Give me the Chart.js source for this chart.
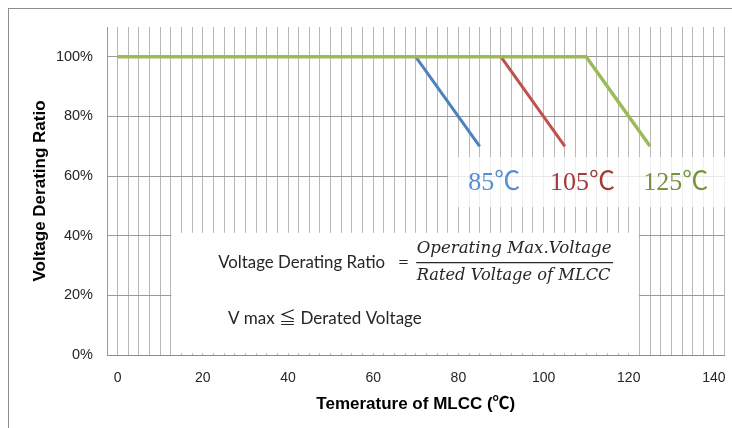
<!DOCTYPE html>
<html><head><meta charset="utf-8">
<script src="https://cdn.jsdelivr.net/npm/chart.js@4.4.1/dist/chart.umd.min.js"></script>
<style>html,body{margin:0;padding:0;background:#fff}#wrap{position:relative;width:732px;height:428px}</style>
</head><body><div id="wrap"><canvas id="c" width="732" height="428"></canvas></div>
<script>
// ---- data ----
const seriesLabels = ['125℃', '85℃', '105℃'];
const temp125 = [0, 110, 125];
const ratio125 = [100, 100, 70];
const temp85 = [70, 85];
const ratio85 = [100, 70];
const temp105 = [90, 105];
const ratio105 = [100, 70];
const xTickValues = [0, 20, 40, 60, 80, 100, 120, 140];
const yTickValues = [0, 20, 40, 60, 80, 100];
const xTitle = 'Temerature of MLCC (℃)';
const yTitle = 'Voltage Derating Ratio';
const formulaLeft = 'Voltage Derating Ratio';
const formulaNum = 'Operating Max.Voltage';
const formulaDen = 'Rated Voltage of MLCC';
const formulaNote = 'V max ≦ Derated Voltage';

const colors = { g: '#9BBB59', b: '#4F81BD', r: '#C0504D' };
const textColors = { g: '#77933C', b: '#558ED5', r: '#A33B3B' };

function pts(xs, ys) { return xs.map((x, i) => ({ x: x, y: ys[i] })); }

const overlay = {
  id: 'overlay',
  beforeDraw(chart) {
    const ctx = chart.ctx;
    ctx.save();
    ctx.strokeStyle = '#8e8e8e';
    ctx.lineWidth = 1;
    ctx.strokeRect(8.5, 8.5, 760, 460);
    ctx.restore();
  },
  beforeDatasetsDraw(chart) {
    const ctx = chart.ctx, xs = chart.scales.x, ys = chart.scales.y;
    const X = v => xs.getPixelForValue(v), Y = v => ys.getPixelForValue(v);
    ctx.save();
    // formula box (opaque)
    ctx.fillStyle = '#ffffff';
    ctx.fillRect(X(12.6), Y(41), X(122.4) - X(12.6), Y(0.6) - Y(41));
    // label box (semi-transparent)
    ctx.fillStyle = 'rgba(255,255,255,0.78)';
    ctx.fillRect(X(77.6), Y(66.4), chart.width - X(77.6), Y(49.6) - Y(66.4));

    function fitText(text, style, family, x, y, w, color, baseline) {
      ctx.font = style + ' 100px ' + family;
      const m = ctx.measureText(text).width;
      const s = 100 * w / m;
      ctx.font = style + ' ' + s.toFixed(2) + 'px ' + family;
      ctx.fillStyle = color;
      ctx.textAlign = 'left';
      ctx.textBaseline = baseline || 'alphabetic';
      ctx.fillText(text, x, y);
    }
    // series labels
    ctx.textAlign = 'left'; ctx.textBaseline = 'alphabetic';
    ctx.font = '26px "Liberation Serif", "Noto Sans CJK JP", serif';
    const lab = [[seriesLabels[1], 82.3, textColors.b], [seriesLabels[2], 101.5, textColors.r], [seriesLabels[0], 123.4, textColors.g]];
    lab.forEach(l => { ctx.fillStyle = l[2]; ctx.fillText(l[0], X(l[1]), Y(55.3)); });

    const dark = '#262626';
    fitText(formulaLeft, '', 'Lato', X(23.6), Y(29.2), 167, dark);
    fitText('=', '', '"DejaVu Serif"', X(65.8), Y(31.0), 11, dark, 'middle');
    fitText(formulaNum, 'italic', '"DejaVu Serif"', X(70.2), Y(34.2), 195, dark);
    fitText(formulaDen, 'italic', '"DejaVu Serif"', X(70.2), Y(25.15), 194, dark);
    ctx.strokeStyle = dark; ctx.lineWidth = 1.2;
    ctx.beginPath(); ctx.moveTo(X(70.1), Y(31.0)); ctx.lineTo(X(116.3), Y(31.0)); ctx.stroke();
    fitText(formulaNote, '', 'Lato, "Noto Sans CJK JP"', X(25.9), Y(10.4), 194, dark);
    ctx.restore();
  }
};

new Chart(document.getElementById('c'), {
  type: 'scatter',
  data: {
    datasets: [
      { label: seriesLabels[0], data: pts(temp125, ratio125), borderColor: colors.g, borderWidth: 3.5 },
      { label: seriesLabels[1], data: pts(temp85, ratio85), borderColor: colors.b, borderWidth: 3 },
      { label: seriesLabels[2], data: pts(temp105, ratio105), borderColor: colors.r, borderWidth: 3 }
    ].map(d => Object.assign(d, { showLine: true, pointRadius: 0, pointHoverRadius: 0, fill: false, tension: 0, borderCapStyle: 'butt' }))
  },
  options: {
    responsive: false,
    animation: false,
    events: [],
    layout: { padding: { top: 27, right: 7.4, left: 0, bottom: 0 } },
    plugins: { legend: { display: false }, tooltip: { enabled: false } },
    scales: {
      x: {
        type: 'linear', min: -2.5, max: 142.5,
        afterFit: s => { s.height = 73; s.paddingLeft = 0; s.paddingRight = 0; },
        ticks: {
          stepSize: 2.5, autoSkip: false, maxRotation: 0, padding: 15,
          maxTicksLimit: 1000, color: '#262626', font: { family: '"Liberation Sans", Arial', size: 14 },
          callback: v => (xTickValues.includes(v) ? String(v) : '')
        },
        grid: { color: '#b8b8b8', lineWidth: 1, drawTicks: false },
        border: { color: '#8c8c8c', width: 1 },
        title: { display: true, text: xTitle, color: '#000', font: { family: '"Liberation Sans", "Noto Sans CJK JP", Arial', size: 17, weight: 'bold' }, padding: { top: 0, bottom: 13 } }
      },
      y: {
        min: 0, max: 110,
        afterFit: s => { s.width = 107; s.paddingTop = 0; s.paddingBottom = 0; },
        afterBuildTicks: s => { s.ticks = yTickValues.map(v => ({ value: v })); },
        ticks: { padding: 14, color: '#262626', font: { family: '"Liberation Sans", Arial', size: 14.5 }, callback: v => v + '%' },
        grid: { color: '#9a9a9a', lineWidth: 1, drawTicks: false },
        border: { color: '#9a9a9a', width: 1 },
        title: { display: true, text: yTitle, color: '#000', font: { family: '"Liberation Sans", Arial', size: 17, weight: 'bold' }, padding: { top: 30, bottom: 0 } }
      }
    }
  },
  plugins: [overlay]
});
</script></body></html>
